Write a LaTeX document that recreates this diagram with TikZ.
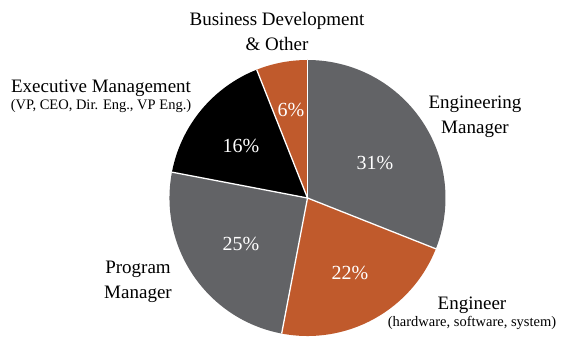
\documentclass[tikz,border=0pt]{standalone}
\usepackage{fontspec}
\setmainfont{Liberation Serif}
\usetikzlibrary{positioning,calc}

\definecolor{slicegrey}{HTML}{626366}
\definecolor{sliceorange}{HTML}{C05A2C}

\tikzset{
  lbl/.style={font=\fontsize{19}{25}\selectfont, align=center, inner sep=0pt},
  sublbl/.style={font=\fontsize{14.5}{17}\selectfont, inner sep=0pt},
  pct/.style={font=\fontsize{20}{22}\selectfont, text=white, inner sep=0pt},
}

\begin{document}
\begin{tikzpicture}[x=1pt,y=1pt]
  \useasboundingbox (0,0) rectangle (561,337);
  \coordinate (c) at (307.5,139);

  % slices, clockwise from the top
  \fill[slicegrey]   (c) -- ++(90:138pt)     arc (90:-21.6:138pt)     -- cycle;
  \fill[sliceorange] (c) -- ++(-21.6:138pt)  arc (-21.6:-100.8:138pt) -- cycle;
  \fill[slicegrey]   (c) -- ++(-100.8:138pt) arc (-100.8:-190.8:138pt) -- cycle;
  \fill[black]       (c) -- ++(-190.8:138pt) arc (-190.8:-248.4:138pt) -- cycle;
  \fill[sliceorange] (c) -- ++(-248.4:138pt) arc (-248.4:-270:138pt) -- cycle;

  % white borders between slices
  \foreach \a in {90,-21.6,-100.8,-190.8,-248.4}
    \draw[white, line width=1.3pt] (c) -- ++(\a:138pt);

  % percentages
  \node[pct] (p_engmgr) at (375,174) {31\%};
  \node[pct] (p_eng)    at (350,64)  {22\%};
  \node[pct] (p_prog)   at (241,93)  {25\%};
  \node[pct] (p_exec)   at (241,191) {16\%};
  \node[pct] (p_bus)    at (291,227) {6\%};

  % category labels
  \node[lbl] (engmgr) at (475,220) {Engineering\\Manager};
  \node[lbl] (eng) at (472,32) {Engineer};
  \node[sublbl, below=3pt of eng] (eng_sub) {(hardware, software, system)};
  \node[lbl] (prog) at (138,55) {Program\\Manager};
  \node[lbl] (exec) at (101,249) {Executive Management};
  \node[sublbl, below=3pt of exec] (exec_sub) {(VP, CEO, Dir. Eng., VP Eng.)};
  \node[lbl] (bus) at (277,305) {Business Development\\\& Other};
\end{tikzpicture}
\end{document}
